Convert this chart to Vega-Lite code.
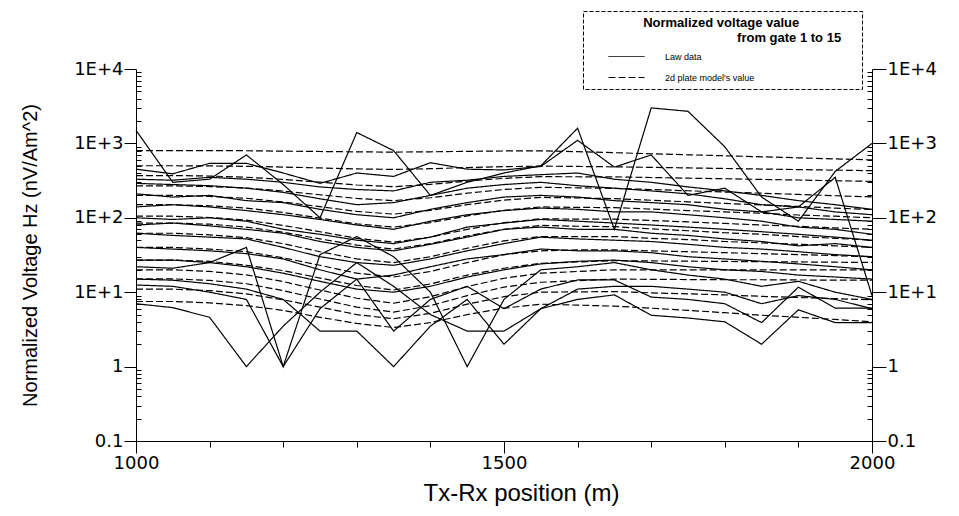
{
"$schema":"https://vega.github.io/schema/vega-lite/v6.json",
"width":736,"height":372,
"autosize":{"type":"none"},
"padding":{"left":136,"top":69,"right":87,"bottom":75},
"background":"white",
"config":{"view":{"stroke":null},"font":"Liberation Sans"},
"data":{"values":[
{"pos":1000,"val":800,"gate":1,"kind":"model"},{"pos":1050,"val":800,"gate":1,"kind":"model"},{"pos":1100,"val":799,"gate":1,"kind":"model"},{"pos":1150,"val":797,"gate":1,"kind":"model"},{"pos":1200,"val":787,"gate":1,"kind":"model"},{"pos":1250,"val":778,"gate":1,"kind":"model"},{"pos":1300,"val":770,"gate":1,"kind":"model"},{"pos":1350,"val":764,"gate":1,"kind":"model"},{"pos":1400,"val":771,"gate":1,"kind":"model"},{"pos":1450,"val":782,"gate":1,"kind":"model"},{"pos":1500,"val":791,"gate":1,"kind":"model"},{"pos":1550,"val":796,"gate":1,"kind":"model"},{"pos":1600,"val":773,"gate":1,"kind":"model"},{"pos":1650,"val":750,"gate":1,"kind":"model"},{"pos":1700,"val":726,"gate":1,"kind":"model"},{"pos":1750,"val":703,"gate":1,"kind":"model"},{"pos":1800,"val":682,"gate":1,"kind":"model"},{"pos":1850,"val":661,"gate":1,"kind":"model"},{"pos":1900,"val":640,"gate":1,"kind":"model"},{"pos":1950,"val":619,"gate":1,"kind":"model"},{"pos":2000,"val":600,"gate":1,"kind":"model"},
{"pos":1000,"val":501,"gate":2,"kind":"model"},{"pos":1050,"val":501,"gate":2,"kind":"model"},{"pos":1100,"val":498,"gate":2,"kind":"model"},{"pos":1150,"val":492,"gate":2,"kind":"model"},{"pos":1200,"val":481,"gate":2,"kind":"model"},{"pos":1250,"val":468,"gate":2,"kind":"model"},{"pos":1300,"val":454,"gate":2,"kind":"model"},{"pos":1350,"val":447,"gate":2,"kind":"model"},{"pos":1400,"val":457,"gate":2,"kind":"model"},{"pos":1450,"val":473,"gate":2,"kind":"model"},{"pos":1500,"val":487,"gate":2,"kind":"model"},{"pos":1550,"val":495,"gate":2,"kind":"model"},{"pos":1600,"val":490,"gate":2,"kind":"model"},{"pos":1650,"val":484,"gate":2,"kind":"model"},{"pos":1700,"val":476,"gate":2,"kind":"model"},{"pos":1750,"val":468,"gate":2,"kind":"model"},{"pos":1800,"val":460,"gate":2,"kind":"model"},{"pos":1850,"val":452,"gate":2,"kind":"model"},{"pos":1900,"val":445,"gate":2,"kind":"model"},{"pos":1950,"val":437,"gate":2,"kind":"model"},{"pos":2000,"val":430,"gate":2,"kind":"model"},
{"pos":1000,"val":370,"gate":3,"kind":"model"},{"pos":1050,"val":370,"gate":3,"kind":"model"},{"pos":1100,"val":364,"gate":3,"kind":"model"},{"pos":1150,"val":351,"gate":3,"kind":"model"},{"pos":1200,"val":328,"gate":3,"kind":"model"},{"pos":1250,"val":301,"gate":3,"kind":"model"},{"pos":1300,"val":276,"gate":3,"kind":"model"},{"pos":1350,"val":262,"gate":3,"kind":"model"},{"pos":1400,"val":281,"gate":3,"kind":"model"},{"pos":1450,"val":311,"gate":3,"kind":"model"},{"pos":1500,"val":339,"gate":3,"kind":"model"},{"pos":1550,"val":357,"gate":3,"kind":"model"},{"pos":1600,"val":356,"gate":3,"kind":"model"},{"pos":1650,"val":355,"gate":3,"kind":"model"},{"pos":1700,"val":348,"gate":3,"kind":"model"},{"pos":1750,"val":341,"gate":3,"kind":"model"},{"pos":1800,"val":335,"gate":3,"kind":"model"},{"pos":1850,"val":328,"gate":3,"kind":"model"},{"pos":1900,"val":322,"gate":3,"kind":"model"},{"pos":1950,"val":315,"gate":3,"kind":"model"},{"pos":2000,"val":309,"gate":3,"kind":"model"},
{"pos":1000,"val":269,"gate":4,"kind":"model"},{"pos":1050,"val":269,"gate":4,"kind":"model"},{"pos":1100,"val":263,"gate":4,"kind":"model"},{"pos":1150,"val":251,"gate":4,"kind":"model"},{"pos":1200,"val":229,"gate":4,"kind":"model"},{"pos":1250,"val":204,"gate":4,"kind":"model"},{"pos":1300,"val":182,"gate":4,"kind":"model"},{"pos":1350,"val":170,"gate":4,"kind":"model"},{"pos":1400,"val":186,"gate":4,"kind":"model"},{"pos":1450,"val":214,"gate":4,"kind":"model"},{"pos":1500,"val":240,"gate":4,"kind":"model"},{"pos":1550,"val":257,"gate":4,"kind":"model"},{"pos":1600,"val":253,"gate":4,"kind":"model"},{"pos":1650,"val":249,"gate":4,"kind":"model"},{"pos":1700,"val":240,"gate":4,"kind":"model"},{"pos":1750,"val":231,"gate":4,"kind":"model"},{"pos":1800,"val":222,"gate":4,"kind":"model"},{"pos":1850,"val":214,"gate":4,"kind":"model"},{"pos":1900,"val":206,"gate":4,"kind":"model"},{"pos":1950,"val":198,"gate":4,"kind":"model"},{"pos":2000,"val":191,"gate":4,"kind":"model"},
{"pos":1000,"val":200,"gate":5,"kind":"model"},{"pos":1050,"val":200,"gate":5,"kind":"model"},{"pos":1100,"val":194,"gate":5,"kind":"model"},{"pos":1150,"val":183,"gate":5,"kind":"model"},{"pos":1200,"val":163,"gate":5,"kind":"model"},{"pos":1250,"val":141,"gate":5,"kind":"model"},{"pos":1300,"val":122,"gate":5,"kind":"model"},{"pos":1350,"val":112,"gate":5,"kind":"model"},{"pos":1400,"val":126,"gate":5,"kind":"model"},{"pos":1450,"val":150,"gate":5,"kind":"model"},{"pos":1500,"val":173,"gate":5,"kind":"model"},{"pos":1550,"val":188,"gate":5,"kind":"model"},{"pos":1600,"val":185,"gate":5,"kind":"model"},{"pos":1650,"val":181,"gate":5,"kind":"model"},{"pos":1700,"val":172,"gate":5,"kind":"model"},{"pos":1750,"val":164,"gate":5,"kind":"model"},{"pos":1800,"val":156,"gate":5,"kind":"model"},{"pos":1850,"val":149,"gate":5,"kind":"model"},{"pos":1900,"val":142,"gate":5,"kind":"model"},{"pos":1950,"val":135,"gate":5,"kind":"model"},{"pos":2000,"val":129,"gate":5,"kind":"model"},
{"pos":1000,"val":150,"gate":6,"kind":"model"},{"pos":1050,"val":150,"gate":6,"kind":"model"},{"pos":1100,"val":145,"gate":6,"kind":"model"},{"pos":1150,"val":135,"gate":6,"kind":"model"},{"pos":1200,"val":118,"gate":6,"kind":"model"},{"pos":1250,"val":99,"gate":6,"kind":"model"},{"pos":1300,"val":83,"gate":6,"kind":"model"},{"pos":1350,"val":75,"gate":6,"kind":"model"},{"pos":1400,"val":86,"gate":6,"kind":"model"},{"pos":1450,"val":106,"gate":6,"kind":"model"},{"pos":1500,"val":126,"gate":6,"kind":"model"},{"pos":1550,"val":140,"gate":6,"kind":"model"},{"pos":1600,"val":138,"gate":6,"kind":"model"},{"pos":1650,"val":137,"gate":6,"kind":"model"},{"pos":1700,"val":131,"gate":6,"kind":"model"},{"pos":1750,"val":125,"gate":6,"kind":"model"},{"pos":1800,"val":120,"gate":6,"kind":"model"},{"pos":1850,"val":115,"gate":6,"kind":"model"},{"pos":1900,"val":109,"gate":6,"kind":"model"},{"pos":1950,"val":105,"gate":6,"kind":"model"},{"pos":2000,"val":100,"gate":6,"kind":"model"},
{"pos":1000,"val":105,"gate":7,"kind":"model"},{"pos":1050,"val":105,"gate":7,"kind":"model"},{"pos":1100,"val":101,"gate":7,"kind":"model"},{"pos":1150,"val":93,"gate":7,"kind":"model"},{"pos":1200,"val":79,"gate":7,"kind":"model"},{"pos":1250,"val":65,"gate":7,"kind":"model"},{"pos":1300,"val":53,"gate":7,"kind":"model"},{"pos":1350,"val":47,"gate":7,"kind":"model"},{"pos":1400,"val":55,"gate":7,"kind":"model"},{"pos":1450,"val":70,"gate":7,"kind":"model"},{"pos":1500,"val":86,"gate":7,"kind":"model"},{"pos":1550,"val":97,"gate":7,"kind":"model"},{"pos":1600,"val":96,"gate":7,"kind":"model"},{"pos":1650,"val":96,"gate":7,"kind":"model"},{"pos":1700,"val":92,"gate":7,"kind":"model"},{"pos":1750,"val":88,"gate":7,"kind":"model"},{"pos":1800,"val":84,"gate":7,"kind":"model"},{"pos":1850,"val":80,"gate":7,"kind":"model"},{"pos":1900,"val":77,"gate":7,"kind":"model"},{"pos":1950,"val":73,"gate":7,"kind":"model"},{"pos":2000,"val":70,"gate":7,"kind":"model"},
{"pos":1000,"val":85,"gate":8,"kind":"model"},{"pos":1050,"val":85,"gate":8,"kind":"model"},{"pos":1100,"val":82,"gate":8,"kind":"model"},{"pos":1150,"val":75,"gate":8,"kind":"model"},{"pos":1200,"val":64,"gate":8,"kind":"model"},{"pos":1250,"val":52,"gate":8,"kind":"model"},{"pos":1300,"val":43,"gate":8,"kind":"model"},{"pos":1350,"val":38,"gate":8,"kind":"model"},{"pos":1400,"val":45,"gate":8,"kind":"model"},{"pos":1450,"val":57,"gate":8,"kind":"model"},{"pos":1500,"val":70,"gate":8,"kind":"model"},{"pos":1550,"val":79,"gate":8,"kind":"model"},{"pos":1600,"val":77,"gate":8,"kind":"model"},{"pos":1650,"val":76,"gate":8,"kind":"model"},{"pos":1700,"val":71,"gate":8,"kind":"model"},{"pos":1750,"val":67,"gate":8,"kind":"model"},{"pos":1800,"val":63,"gate":8,"kind":"model"},{"pos":1850,"val":60,"gate":8,"kind":"model"},{"pos":1900,"val":56,"gate":8,"kind":"model"},{"pos":1950,"val":53,"gate":8,"kind":"model"},{"pos":2000,"val":50,"gate":8,"kind":"model"},
{"pos":1000,"val":62,"gate":9,"kind":"model"},{"pos":1050,"val":62,"gate":9,"kind":"model"},{"pos":1100,"val":59,"gate":9,"kind":"model"},{"pos":1150,"val":54,"gate":9,"kind":"model"},{"pos":1200,"val":45,"gate":9,"kind":"model"},{"pos":1250,"val":35,"gate":9,"kind":"model"},{"pos":1300,"val":28,"gate":9,"kind":"model"},{"pos":1350,"val":25,"gate":9,"kind":"model"},{"pos":1400,"val":30,"gate":9,"kind":"model"},{"pos":1450,"val":39,"gate":9,"kind":"model"},{"pos":1500,"val":49,"gate":9,"kind":"model"},{"pos":1550,"val":56,"gate":9,"kind":"model"},{"pos":1600,"val":56,"gate":9,"kind":"model"},{"pos":1650,"val":56,"gate":9,"kind":"model"},{"pos":1700,"val":53,"gate":9,"kind":"model"},{"pos":1750,"val":51,"gate":9,"kind":"model"},{"pos":1800,"val":48,"gate":9,"kind":"model"},{"pos":1850,"val":46,"gate":9,"kind":"model"},{"pos":1900,"val":44,"gate":9,"kind":"model"},{"pos":1950,"val":42,"gate":9,"kind":"model"},{"pos":2000,"val":40,"gate":9,"kind":"model"},
{"pos":1000,"val":40,"gate":10,"kind":"model"},{"pos":1050,"val":40,"gate":10,"kind":"model"},{"pos":1100,"val":38,"gate":10,"kind":"model"},{"pos":1150,"val":35,"gate":10,"kind":"model"},{"pos":1200,"val":29,"gate":10,"kind":"model"},{"pos":1250,"val":23,"gate":10,"kind":"model"},{"pos":1300,"val":18,"gate":10,"kind":"model"},{"pos":1350,"val":16,"gate":10,"kind":"model"},{"pos":1400,"val":19,"gate":10,"kind":"model"},{"pos":1450,"val":25,"gate":10,"kind":"model"},{"pos":1500,"val":32,"gate":10,"kind":"model"},{"pos":1550,"val":36,"gate":10,"kind":"model"},{"pos":1600,"val":37,"gate":10,"kind":"model"},{"pos":1650,"val":37,"gate":10,"kind":"model"},{"pos":1700,"val":36,"gate":10,"kind":"model"},{"pos":1750,"val":35,"gate":10,"kind":"model"},{"pos":1800,"val":34,"gate":10,"kind":"model"},{"pos":1850,"val":33,"gate":10,"kind":"model"},{"pos":1900,"val":32,"gate":10,"kind":"model"},{"pos":1950,"val":31,"gate":10,"kind":"model"},{"pos":2000,"val":30,"gate":10,"kind":"model"},
{"pos":1000,"val":27,"gate":11,"kind":"model"},{"pos":1050,"val":27,"gate":11,"kind":"model"},{"pos":1100,"val":26,"gate":11,"kind":"model"},{"pos":1150,"val":23,"gate":11,"kind":"model"},{"pos":1200,"val":19.5,"gate":11,"kind":"model"},{"pos":1250,"val":15.5,"gate":11,"kind":"model"},{"pos":1300,"val":12.3,"gate":11,"kind":"model"},{"pos":1350,"val":10.7,"gate":11,"kind":"model"},{"pos":1400,"val":12.9,"gate":11,"kind":"model"},{"pos":1450,"val":17,"gate":11,"kind":"model"},{"pos":1500,"val":21,"gate":11,"kind":"model"},{"pos":1550,"val":24.5,"gate":11,"kind":"model"},{"pos":1600,"val":25.5,"gate":11,"kind":"model"},{"pos":1650,"val":26.5,"gate":11,"kind":"model"},{"pos":1700,"val":26.3,"gate":11,"kind":"model"},{"pos":1750,"val":26.1,"gate":11,"kind":"model"},{"pos":1800,"val":25.9,"gate":11,"kind":"model"},{"pos":1850,"val":25.7,"gate":11,"kind":"model"},{"pos":1900,"val":25.5,"gate":11,"kind":"model"},{"pos":1950,"val":25.3,"gate":11,"kind":"model"},{"pos":2000,"val":25.1,"gate":11,"kind":"model"},
{"pos":1000,"val":20,"gate":12,"kind":"model"},{"pos":1050,"val":20,"gate":12,"kind":"model"},{"pos":1100,"val":19,"gate":12,"kind":"model"},{"pos":1150,"val":17.1,"gate":12,"kind":"model"},{"pos":1200,"val":13.9,"gate":12,"kind":"model"},{"pos":1250,"val":10.7,"gate":12,"kind":"model"},{"pos":1300,"val":8.3,"gate":12,"kind":"model"},{"pos":1350,"val":7.1,"gate":12,"kind":"model"},{"pos":1400,"val":8.7,"gate":12,"kind":"model"},{"pos":1450,"val":11.9,"gate":12,"kind":"model"},{"pos":1500,"val":15.4,"gate":12,"kind":"model"},{"pos":1550,"val":18,"gate":12,"kind":"model"},{"pos":1600,"val":19,"gate":12,"kind":"model"},{"pos":1650,"val":20,"gate":12,"kind":"model"},{"pos":1700,"val":20,"gate":12,"kind":"model"},{"pos":1750,"val":20,"gate":12,"kind":"model"},{"pos":1800,"val":20,"gate":12,"kind":"model"},{"pos":1850,"val":20,"gate":12,"kind":"model"},{"pos":1900,"val":20,"gate":12,"kind":"model"},{"pos":1950,"val":20,"gate":12,"kind":"model"},{"pos":2000,"val":20,"gate":12,"kind":"model"},
{"pos":1000,"val":15.1,"gate":13,"kind":"model"},{"pos":1050,"val":15.1,"gate":13,"kind":"model"},{"pos":1100,"val":14.4,"gate":13,"kind":"model"},{"pos":1150,"val":13,"gate":13,"kind":"model"},{"pos":1200,"val":10.5,"gate":13,"kind":"model"},{"pos":1250,"val":8.1,"gate":13,"kind":"model"},{"pos":1300,"val":6.3,"gate":13,"kind":"model"},{"pos":1350,"val":5.4,"gate":13,"kind":"model"},{"pos":1400,"val":6.6,"gate":13,"kind":"model"},{"pos":1450,"val":9,"gate":13,"kind":"model"},{"pos":1500,"val":11.7,"gate":13,"kind":"model"},{"pos":1550,"val":13.6,"gate":13,"kind":"model"},{"pos":1600,"val":14.3,"gate":13,"kind":"model"},{"pos":1650,"val":15,"gate":13,"kind":"model"},{"pos":1700,"val":14.9,"gate":13,"kind":"model"},{"pos":1750,"val":14.8,"gate":13,"kind":"model"},{"pos":1800,"val":14.7,"gate":13,"kind":"model"},{"pos":1850,"val":14.7,"gate":13,"kind":"model"},{"pos":1900,"val":14.6,"gate":13,"kind":"model"},{"pos":1950,"val":14.5,"gate":13,"kind":"model"},{"pos":2000,"val":14.5,"gate":13,"kind":"model"},
{"pos":1000,"val":11,"gate":14,"kind":"model"},{"pos":1050,"val":11,"gate":14,"kind":"model"},{"pos":1100,"val":10.5,"gate":14,"kind":"model"},{"pos":1150,"val":9.5,"gate":14,"kind":"model"},{"pos":1200,"val":7.9,"gate":14,"kind":"model"},{"pos":1250,"val":6.3,"gate":14,"kind":"model"},{"pos":1300,"val":5,"gate":14,"kind":"model"},{"pos":1350,"val":4.4,"gate":14,"kind":"model"},{"pos":1400,"val":5.2,"gate":14,"kind":"model"},{"pos":1450,"val":6.9,"gate":14,"kind":"model"},{"pos":1500,"val":8.7,"gate":14,"kind":"model"},{"pos":1550,"val":10,"gate":14,"kind":"model"},{"pos":1600,"val":10.1,"gate":14,"kind":"model"},{"pos":1650,"val":10.2,"gate":14,"kind":"model"},{"pos":1700,"val":9.8,"gate":14,"kind":"model"},{"pos":1750,"val":9.5,"gate":14,"kind":"model"},{"pos":1800,"val":9.2,"gate":14,"kind":"model"},{"pos":1850,"val":8.8,"gate":14,"kind":"model"},{"pos":1900,"val":8.5,"gate":14,"kind":"model"},{"pos":1950,"val":8.2,"gate":14,"kind":"model"},{"pos":2000,"val":7.9,"gate":14,"kind":"model"},
{"pos":1000,"val":7.5,"gate":15,"kind":"model"},{"pos":1050,"val":7.5,"gate":15,"kind":"model"},{"pos":1100,"val":7.2,"gate":15,"kind":"model"},{"pos":1150,"val":6.6,"gate":15,"kind":"model"},{"pos":1200,"val":5.7,"gate":15,"kind":"model"},{"pos":1250,"val":4.6,"gate":15,"kind":"model"},{"pos":1300,"val":3.8,"gate":15,"kind":"model"},{"pos":1350,"val":3.35,"gate":15,"kind":"model"},{"pos":1400,"val":3.9,"gate":15,"kind":"model"},{"pos":1450,"val":5,"gate":15,"kind":"model"},{"pos":1500,"val":6.1,"gate":15,"kind":"model"},{"pos":1550,"val":6.9,"gate":15,"kind":"model"},{"pos":1600,"val":6.7,"gate":15,"kind":"model"},{"pos":1650,"val":6.5,"gate":15,"kind":"model"},{"pos":1700,"val":6.1,"gate":15,"kind":"model"},{"pos":1750,"val":5.7,"gate":15,"kind":"model"},{"pos":1800,"val":5.3,"gate":15,"kind":"model"},{"pos":1850,"val":4.9,"gate":15,"kind":"model"},{"pos":1900,"val":4.6,"gate":15,"kind":"model"},{"pos":1950,"val":4.3,"gate":15,"kind":"model"},{"pos":2000,"val":4,"gate":15,"kind":"model"},
{"pos":1000,"val":1500,"gate":1,"kind":"raw"},{"pos":1050,"val":300,"gate":1,"kind":"raw"},{"pos":1100,"val":330,"gate":1,"kind":"raw"},{"pos":1150,"val":700,"gate":1,"kind":"raw"},{"pos":1200,"val":280,"gate":1,"kind":"raw"},{"pos":1250,"val":100,"gate":1,"kind":"raw"},{"pos":1300,"val":1400,"gate":1,"kind":"raw"},{"pos":1350,"val":800,"gate":1,"kind":"raw"},{"pos":1400,"val":200,"gate":1,"kind":"raw"},{"pos":1450,"val":300,"gate":1,"kind":"raw"},{"pos":1500,"val":400,"gate":1,"kind":"raw"},{"pos":1550,"val":500,"gate":1,"kind":"raw"},{"pos":1600,"val":1600,"gate":1,"kind":"raw"},{"pos":1650,"val":70,"gate":1,"kind":"raw"},{"pos":1700,"val":3000,"gate":1,"kind":"raw"},{"pos":1750,"val":2700,"gate":1,"kind":"raw"},{"pos":1800,"val":900,"gate":1,"kind":"raw"},{"pos":1850,"val":190,"gate":1,"kind":"raw"},{"pos":1900,"val":90,"gate":1,"kind":"raw"},{"pos":1950,"val":420,"gate":1,"kind":"raw"},{"pos":2000,"val":1000,"gate":1,"kind":"raw"},
{"pos":1000,"val":450,"gate":2,"kind":"raw"},{"pos":1050,"val":390,"gate":2,"kind":"raw"},{"pos":1100,"val":540,"gate":2,"kind":"raw"},{"pos":1150,"val":540,"gate":2,"kind":"raw"},{"pos":1200,"val":400,"gate":2,"kind":"raw"},{"pos":1250,"val":290,"gate":2,"kind":"raw"},{"pos":1300,"val":400,"gate":2,"kind":"raw"},{"pos":1350,"val":360,"gate":2,"kind":"raw"},{"pos":1400,"val":550,"gate":2,"kind":"raw"},{"pos":1450,"val":450,"gate":2,"kind":"raw"},{"pos":1500,"val":440,"gate":2,"kind":"raw"},{"pos":1550,"val":490,"gate":2,"kind":"raw"},{"pos":1600,"val":1100,"gate":2,"kind":"raw"},{"pos":1650,"val":480,"gate":2,"kind":"raw"},{"pos":1700,"val":700,"gate":2,"kind":"raw"},{"pos":1750,"val":200,"gate":2,"kind":"raw"},{"pos":1800,"val":250,"gate":2,"kind":"raw"},{"pos":1850,"val":120,"gate":2,"kind":"raw"},{"pos":1900,"val":140,"gate":2,"kind":"raw"},{"pos":1950,"val":350,"gate":2,"kind":"raw"},{"pos":2000,"val":9,"gate":2,"kind":"raw"},
{"pos":1000,"val":330,"gate":3,"kind":"raw"},{"pos":1050,"val":320,"gate":3,"kind":"raw"},{"pos":1100,"val":350,"gate":3,"kind":"raw"},{"pos":1150,"val":330,"gate":3,"kind":"raw"},{"pos":1200,"val":300,"gate":3,"kind":"raw"},{"pos":1250,"val":260,"gate":3,"kind":"raw"},{"pos":1300,"val":240,"gate":3,"kind":"raw"},{"pos":1350,"val":230,"gate":3,"kind":"raw"},{"pos":1400,"val":300,"gate":3,"kind":"raw"},{"pos":1450,"val":320,"gate":3,"kind":"raw"},{"pos":1500,"val":360,"gate":3,"kind":"raw"},{"pos":1550,"val":380,"gate":3,"kind":"raw"},{"pos":1600,"val":400,"gate":3,"kind":"raw"},{"pos":1650,"val":330,"gate":3,"kind":"raw"},{"pos":1700,"val":300,"gate":3,"kind":"raw"},{"pos":1750,"val":260,"gate":3,"kind":"raw"},{"pos":1800,"val":230,"gate":3,"kind":"raw"},{"pos":1850,"val":200,"gate":3,"kind":"raw"},{"pos":1900,"val":170,"gate":3,"kind":"raw"},{"pos":1950,"val":150,"gate":3,"kind":"raw"},{"pos":2000,"val":130,"gate":3,"kind":"raw"},
{"pos":1000,"val":290,"gate":4,"kind":"raw"},{"pos":1050,"val":280,"gate":4,"kind":"raw"},{"pos":1100,"val":270,"gate":4,"kind":"raw"},{"pos":1150,"val":250,"gate":4,"kind":"raw"},{"pos":1200,"val":220,"gate":4,"kind":"raw"},{"pos":1250,"val":180,"gate":4,"kind":"raw"},{"pos":1300,"val":150,"gate":4,"kind":"raw"},{"pos":1350,"val":160,"gate":4,"kind":"raw"},{"pos":1400,"val":200,"gate":4,"kind":"raw"},{"pos":1450,"val":250,"gate":4,"kind":"raw"},{"pos":1500,"val":280,"gate":4,"kind":"raw"},{"pos":1550,"val":300,"gate":4,"kind":"raw"},{"pos":1600,"val":270,"gate":4,"kind":"raw"},{"pos":1650,"val":250,"gate":4,"kind":"raw"},{"pos":1700,"val":230,"gate":4,"kind":"raw"},{"pos":1750,"val":210,"gate":4,"kind":"raw"},{"pos":1800,"val":180,"gate":4,"kind":"raw"},{"pos":1850,"val":150,"gate":4,"kind":"raw"},{"pos":1900,"val":140,"gate":4,"kind":"raw"},{"pos":1950,"val":120,"gate":4,"kind":"raw"},{"pos":2000,"val":110,"gate":4,"kind":"raw"},
{"pos":1000,"val":210,"gate":5,"kind":"raw"},{"pos":1050,"val":190,"gate":5,"kind":"raw"},{"pos":1100,"val":200,"gate":5,"kind":"raw"},{"pos":1150,"val":170,"gate":5,"kind":"raw"},{"pos":1200,"val":160,"gate":5,"kind":"raw"},{"pos":1250,"val":130,"gate":5,"kind":"raw"},{"pos":1300,"val":110,"gate":5,"kind":"raw"},{"pos":1350,"val":100,"gate":5,"kind":"raw"},{"pos":1400,"val":130,"gate":5,"kind":"raw"},{"pos":1450,"val":160,"gate":5,"kind":"raw"},{"pos":1500,"val":190,"gate":5,"kind":"raw"},{"pos":1550,"val":200,"gate":5,"kind":"raw"},{"pos":1600,"val":190,"gate":5,"kind":"raw"},{"pos":1650,"val":170,"gate":5,"kind":"raw"},{"pos":1700,"val":160,"gate":5,"kind":"raw"},{"pos":1750,"val":150,"gate":5,"kind":"raw"},{"pos":1800,"val":130,"gate":5,"kind":"raw"},{"pos":1850,"val":120,"gate":5,"kind":"raw"},{"pos":1900,"val":100,"gate":5,"kind":"raw"},{"pos":1950,"val":95,"gate":5,"kind":"raw"},{"pos":2000,"val":90,"gate":5,"kind":"raw"},
{"pos":1000,"val":140,"gate":6,"kind":"raw"},{"pos":1050,"val":150,"gate":6,"kind":"raw"},{"pos":1100,"val":140,"gate":6,"kind":"raw"},{"pos":1150,"val":125,"gate":6,"kind":"raw"},{"pos":1200,"val":110,"gate":6,"kind":"raw"},{"pos":1250,"val":95,"gate":6,"kind":"raw"},{"pos":1300,"val":80,"gate":6,"kind":"raw"},{"pos":1350,"val":70,"gate":6,"kind":"raw"},{"pos":1400,"val":90,"gate":6,"kind":"raw"},{"pos":1450,"val":110,"gate":6,"kind":"raw"},{"pos":1500,"val":125,"gate":6,"kind":"raw"},{"pos":1550,"val":135,"gate":6,"kind":"raw"},{"pos":1600,"val":130,"gate":6,"kind":"raw"},{"pos":1650,"val":120,"gate":6,"kind":"raw"},{"pos":1700,"val":120,"gate":6,"kind":"raw"},{"pos":1750,"val":110,"gate":6,"kind":"raw"},{"pos":1800,"val":100,"gate":6,"kind":"raw"},{"pos":1850,"val":90,"gate":6,"kind":"raw"},{"pos":1900,"val":75,"gate":6,"kind":"raw"},{"pos":1950,"val":70,"gate":6,"kind":"raw"},{"pos":2000,"val":60,"gate":6,"kind":"raw"},
{"pos":1000,"val":100,"gate":7,"kind":"raw"},{"pos":1050,"val":95,"gate":7,"kind":"raw"},{"pos":1100,"val":100,"gate":7,"kind":"raw"},{"pos":1150,"val":90,"gate":7,"kind":"raw"},{"pos":1200,"val":70,"gate":7,"kind":"raw"},{"pos":1250,"val":60,"gate":7,"kind":"raw"},{"pos":1300,"val":50,"gate":7,"kind":"raw"},{"pos":1350,"val":45,"gate":7,"kind":"raw"},{"pos":1400,"val":55,"gate":7,"kind":"raw"},{"pos":1450,"val":75,"gate":7,"kind":"raw"},{"pos":1500,"val":85,"gate":7,"kind":"raw"},{"pos":1550,"val":95,"gate":7,"kind":"raw"},{"pos":1600,"val":90,"gate":7,"kind":"raw"},{"pos":1650,"val":85,"gate":7,"kind":"raw"},{"pos":1700,"val":80,"gate":7,"kind":"raw"},{"pos":1750,"val":75,"gate":7,"kind":"raw"},{"pos":1800,"val":70,"gate":7,"kind":"raw"},{"pos":1850,"val":65,"gate":7,"kind":"raw"},{"pos":1900,"val":60,"gate":7,"kind":"raw"},{"pos":1950,"val":55,"gate":7,"kind":"raw"},{"pos":2000,"val":50,"gate":7,"kind":"raw"},
{"pos":1000,"val":80,"gate":8,"kind":"raw"},{"pos":1050,"val":85,"gate":8,"kind":"raw"},{"pos":1100,"val":78,"gate":8,"kind":"raw"},{"pos":1150,"val":70,"gate":8,"kind":"raw"},{"pos":1200,"val":62,"gate":8,"kind":"raw"},{"pos":1250,"val":48,"gate":8,"kind":"raw"},{"pos":1300,"val":40,"gate":8,"kind":"raw"},{"pos":1350,"val":36,"gate":8,"kind":"raw"},{"pos":1400,"val":44,"gate":8,"kind":"raw"},{"pos":1450,"val":55,"gate":8,"kind":"raw"},{"pos":1500,"val":70,"gate":8,"kind":"raw"},{"pos":1550,"val":75,"gate":8,"kind":"raw"},{"pos":1600,"val":70,"gate":8,"kind":"raw"},{"pos":1650,"val":70,"gate":8,"kind":"raw"},{"pos":1700,"val":62,"gate":8,"kind":"raw"},{"pos":1750,"val":58,"gate":8,"kind":"raw"},{"pos":1800,"val":52,"gate":8,"kind":"raw"},{"pos":1850,"val":48,"gate":8,"kind":"raw"},{"pos":1900,"val":42,"gate":8,"kind":"raw"},{"pos":1950,"val":45,"gate":8,"kind":"raw"},{"pos":2000,"val":40,"gate":8,"kind":"raw"},
{"pos":1000,"val":62,"gate":9,"kind":"raw"},{"pos":1050,"val":58,"gate":9,"kind":"raw"},{"pos":1100,"val":55,"gate":9,"kind":"raw"},{"pos":1150,"val":52,"gate":9,"kind":"raw"},{"pos":1200,"val":40,"gate":9,"kind":"raw"},{"pos":1250,"val":30,"gate":9,"kind":"raw"},{"pos":1300,"val":25,"gate":9,"kind":"raw"},{"pos":1350,"val":23,"gate":9,"kind":"raw"},{"pos":1400,"val":28,"gate":9,"kind":"raw"},{"pos":1450,"val":36,"gate":9,"kind":"raw"},{"pos":1500,"val":45,"gate":9,"kind":"raw"},{"pos":1550,"val":55,"gate":9,"kind":"raw"},{"pos":1600,"val":52,"gate":9,"kind":"raw"},{"pos":1650,"val":50,"gate":9,"kind":"raw"},{"pos":1700,"val":48,"gate":9,"kind":"raw"},{"pos":1750,"val":44,"gate":9,"kind":"raw"},{"pos":1800,"val":40,"gate":9,"kind":"raw"},{"pos":1850,"val":38,"gate":9,"kind":"raw"},{"pos":1900,"val":35,"gate":9,"kind":"raw"},{"pos":1950,"val":32,"gate":9,"kind":"raw"},{"pos":2000,"val":30,"gate":9,"kind":"raw"},
{"pos":1000,"val":40,"gate":10,"kind":"raw"},{"pos":1050,"val":38,"gate":10,"kind":"raw"},{"pos":1100,"val":36,"gate":10,"kind":"raw"},{"pos":1150,"val":33,"gate":10,"kind":"raw"},{"pos":1200,"val":28,"gate":10,"kind":"raw"},{"pos":1250,"val":20,"gate":10,"kind":"raw"},{"pos":1300,"val":15,"gate":10,"kind":"raw"},{"pos":1350,"val":17,"gate":10,"kind":"raw"},{"pos":1400,"val":22,"gate":10,"kind":"raw"},{"pos":1450,"val":28,"gate":10,"kind":"raw"},{"pos":1500,"val":32,"gate":10,"kind":"raw"},{"pos":1550,"val":38,"gate":10,"kind":"raw"},{"pos":1600,"val":36,"gate":10,"kind":"raw"},{"pos":1650,"val":36,"gate":10,"kind":"raw"},{"pos":1700,"val":34,"gate":10,"kind":"raw"},{"pos":1750,"val":30,"gate":10,"kind":"raw"},{"pos":1800,"val":28,"gate":10,"kind":"raw"},{"pos":1850,"val":26,"gate":10,"kind":"raw"},{"pos":1900,"val":24,"gate":10,"kind":"raw"},{"pos":1950,"val":22,"gate":10,"kind":"raw"},{"pos":2000,"val":20,"gate":10,"kind":"raw"},
{"pos":1000,"val":27,"gate":11,"kind":"raw"},{"pos":1050,"val":27,"gate":11,"kind":"raw"},{"pos":1100,"val":25,"gate":11,"kind":"raw"},{"pos":1150,"val":22,"gate":11,"kind":"raw"},{"pos":1200,"val":18,"gate":11,"kind":"raw"},{"pos":1250,"val":14,"gate":11,"kind":"raw"},{"pos":1300,"val":11,"gate":11,"kind":"raw"},{"pos":1350,"val":10,"gate":11,"kind":"raw"},{"pos":1400,"val":12,"gate":11,"kind":"raw"},{"pos":1450,"val":16,"gate":11,"kind":"raw"},{"pos":1500,"val":20,"gate":11,"kind":"raw"},{"pos":1550,"val":24,"gate":11,"kind":"raw"},{"pos":1600,"val":26,"gate":11,"kind":"raw"},{"pos":1650,"val":27,"gate":11,"kind":"raw"},{"pos":1700,"val":25,"gate":11,"kind":"raw"},{"pos":1750,"val":22,"gate":11,"kind":"raw"},{"pos":1800,"val":20,"gate":11,"kind":"raw"},{"pos":1850,"val":19,"gate":11,"kind":"raw"},{"pos":1900,"val":17,"gate":11,"kind":"raw"},{"pos":1950,"val":16,"gate":11,"kind":"raw"},{"pos":2000,"val":15,"gate":11,"kind":"raw"},
{"pos":1000,"val":22,"gate":12,"kind":"raw"},{"pos":1050,"val":21,"gate":12,"kind":"raw"},{"pos":1100,"val":25,"gate":12,"kind":"raw"},{"pos":1150,"val":40,"gate":12,"kind":"raw"},{"pos":1200,"val":1,"gate":12,"kind":"raw"},{"pos":1250,"val":32,"gate":12,"kind":"raw"},{"pos":1300,"val":56,"gate":12,"kind":"raw"},{"pos":1350,"val":30,"gate":12,"kind":"raw"},{"pos":1400,"val":10,"gate":12,"kind":"raw"},{"pos":1450,"val":1,"gate":12,"kind":"raw"},{"pos":1500,"val":8,"gate":12,"kind":"raw"},{"pos":1550,"val":20,"gate":12,"kind":"raw"},{"pos":1600,"val":22,"gate":12,"kind":"raw"},{"pos":1650,"val":25,"gate":12,"kind":"raw"},{"pos":1700,"val":20,"gate":12,"kind":"raw"},{"pos":1750,"val":17,"gate":12,"kind":"raw"},{"pos":1800,"val":15,"gate":12,"kind":"raw"},{"pos":1850,"val":12,"gate":12,"kind":"raw"},{"pos":1900,"val":14,"gate":12,"kind":"raw"},{"pos":1950,"val":10,"gate":12,"kind":"raw"},{"pos":2000,"val":8,"gate":12,"kind":"raw"},
{"pos":1000,"val":15,"gate":13,"kind":"raw"},{"pos":1050,"val":14.5,"gate":13,"kind":"raw"},{"pos":1100,"val":13,"gate":13,"kind":"raw"},{"pos":1150,"val":11,"gate":13,"kind":"raw"},{"pos":1200,"val":8,"gate":13,"kind":"raw"},{"pos":1250,"val":3,"gate":13,"kind":"raw"},{"pos":1300,"val":3,"gate":13,"kind":"raw"},{"pos":1350,"val":1,"gate":13,"kind":"raw"},{"pos":1400,"val":3.5,"gate":13,"kind":"raw"},{"pos":1450,"val":8,"gate":13,"kind":"raw"},{"pos":1500,"val":2,"gate":13,"kind":"raw"},{"pos":1550,"val":6,"gate":13,"kind":"raw"},{"pos":1600,"val":11,"gate":13,"kind":"raw"},{"pos":1650,"val":12,"gate":13,"kind":"raw"},{"pos":1700,"val":12,"gate":13,"kind":"raw"},{"pos":1750,"val":11,"gate":13,"kind":"raw"},{"pos":1800,"val":10,"gate":13,"kind":"raw"},{"pos":1850,"val":7,"gate":13,"kind":"raw"},{"pos":1900,"val":9,"gate":13,"kind":"raw"},{"pos":1950,"val":8,"gate":13,"kind":"raw"},{"pos":2000,"val":6,"gate":13,"kind":"raw"},
{"pos":1000,"val":12.5,"gate":14,"kind":"raw"},{"pos":1050,"val":12,"gate":14,"kind":"raw"},{"pos":1100,"val":10,"gate":14,"kind":"raw"},{"pos":1150,"val":8,"gate":14,"kind":"raw"},{"pos":1200,"val":1,"gate":14,"kind":"raw"},{"pos":1250,"val":6,"gate":14,"kind":"raw"},{"pos":1300,"val":15,"gate":14,"kind":"raw"},{"pos":1350,"val":3,"gate":14,"kind":"raw"},{"pos":1400,"val":8,"gate":14,"kind":"raw"},{"pos":1450,"val":12,"gate":14,"kind":"raw"},{"pos":1500,"val":6,"gate":14,"kind":"raw"},{"pos":1550,"val":11,"gate":14,"kind":"raw"},{"pos":1600,"val":14.6,"gate":14,"kind":"raw"},{"pos":1650,"val":14.6,"gate":14,"kind":"raw"},{"pos":1700,"val":8.6,"gate":14,"kind":"raw"},{"pos":1750,"val":8,"gate":14,"kind":"raw"},{"pos":1800,"val":7,"gate":14,"kind":"raw"},{"pos":1850,"val":3.9,"gate":14,"kind":"raw"},{"pos":1900,"val":11.7,"gate":14,"kind":"raw"},{"pos":1950,"val":6.1,"gate":14,"kind":"raw"},{"pos":2000,"val":6.1,"gate":14,"kind":"raw"},
{"pos":1000,"val":7,"gate":15,"kind":"raw"},{"pos":1050,"val":6.2,"gate":15,"kind":"raw"},{"pos":1100,"val":4.6,"gate":15,"kind":"raw"},{"pos":1150,"val":1,"gate":15,"kind":"raw"},{"pos":1200,"val":3.5,"gate":15,"kind":"raw"},{"pos":1250,"val":10,"gate":15,"kind":"raw"},{"pos":1300,"val":25,"gate":15,"kind":"raw"},{"pos":1350,"val":12,"gate":15,"kind":"raw"},{"pos":1400,"val":5,"gate":15,"kind":"raw"},{"pos":1450,"val":3,"gate":15,"kind":"raw"},{"pos":1500,"val":3,"gate":15,"kind":"raw"},{"pos":1550,"val":6,"gate":15,"kind":"raw"},{"pos":1600,"val":8,"gate":15,"kind":"raw"},{"pos":1650,"val":9.2,"gate":15,"kind":"raw"},{"pos":1700,"val":4.9,"gate":15,"kind":"raw"},{"pos":1750,"val":4.5,"gate":15,"kind":"raw"},{"pos":1800,"val":4,"gate":15,"kind":"raw"},{"pos":1850,"val":2,"gate":15,"kind":"raw"},{"pos":1900,"val":5.8,"gate":15,"kind":"raw"},{"pos":1950,"val":3.9,"gate":15,"kind":"raw"},{"pos":2000,"val":3.9,"gate":15,"kind":"raw"}
]},
"layer":[
{"transform":[{"filter":"datum.kind=='raw'"}],
 "mark":{"type":"line","color":"black","strokeWidth":1.2},
 "encoding":{
  "x":{"field":"pos","type":"quantitative","scale":{"domain":[1000,2000],"nice":false,"zero":false},
   "axis":{"values":[1000,1050,1100,1150,1200,1250,1300,1350,1400,1450,1500,1550,1600,1650,1700,1750,1800,1850,1900,1950,2000],
    "format":"d","labelExpr":"datum.value==1000||datum.value==1500||datum.value==2000?datum.label:''",
    "labelFlush":false,"labelOverlap":false,"grid":false,
    "tickSize":{"condition":{"test":"datum.value==1000||datum.value==1500||datum.value==2000","value":12},"value":6},
    "domainColor":"black","tickColor":"black","labelColor":"black","labelFont":"DejaVu Sans","labelFontSize":18,"labelPadding":1,
    "title":"Tx-Rx position (m)","titleFont":"Liberation Sans","titleFontSize":24,"titleFontWeight":"normal","titleColor":"black",
    "titleX":385,"titleY":52,"titleAlign":"center","titleBaseline":"middle"}},
  "y":{"field":"val","type":"quantitative","scale":{"type":"log","domain":[0.1,10000],"nice":false},
   "axis":{"orient":"left","values":[0.1,0.2,0.3,0.4,0.5,0.6,0.7,0.8,0.9,1,2,3,4,5,6,7,8,9,10,20,30,40,50,60,70,80,90,100,200,300,400,500,600,700,800,900,1000,2000,3000,4000,5000,6000,7000,8000,9000,10000],
    "labelExpr":"datum.value==10000?'1E+4':datum.value==1000?'1E+3':datum.value==100?'1E+2':datum.value==10?'1E+1':datum.value==1?'1':datum.value==0.1?'0.1':''",
    "labelFlush":false,"labelOverlap":false,"grid":false,
    "tickSize":{"condition":{"test":"indexof([0.1,1,10,100,1000,10000],datum.value)>=0","value":12},"value":-5},
    "domainColor":"black","tickColor":"black","labelColor":"black","labelFont":"DejaVu Sans","labelFontSize":18,"labelPadding":1,
    "title":"Normalized Voltage Hz (nV/Am^2)","titleFont":"Liberation Sans","titleFontSize":20,"titleFontWeight":"normal","titleColor":"black",
    "titleX":-106,"titleY":186,"titleAlign":"center","titleBaseline":"middle"}},
  "detail":{"field":"gate"},
  "strokeDash":{"field":"kind","type":"nominal","scale":{"domain":["raw","model"],"range":[[1,0],[7,3]]},
   "legend":{"orient":"none","legendX":447,"legendY":-58,
    "title":["\u200b\u00a0\u00a0\u00a0\u00a0\u00a0\u00a0\u00a0\u00a0\u00a0\u00a0\u00a0\u00a0\u00a0\u00a0\u00a0Normalized voltage value","\u200b\u00a0\u00a0\u00a0\u00a0\u00a0\u00a0\u00a0\u00a0\u00a0\u00a0\u00a0\u00a0\u00a0\u00a0\u00a0\u00a0\u00a0\u00a0\u00a0\u00a0\u00a0\u00a0\u00a0\u00a0\u00a0\u00a0\u00a0\u00a0\u00a0\u00a0\u00a0\u00a0\u00a0\u00a0\u00a0\u00a0\u00a0\u00a0\u00a0\u00a0\u00a0from gate 1 to 15\u00a0\u00a0\u00a0\u00a0\u200b"],
    "titleFont":"Liberation Sans","titleFontSize":13,"titleFontWeight":"bold","titleColor":"black","titleLineHeight":15,"titlePadding":6,"titleLimit":1000,"titleAlign":"left","titleAnchor":"start",
    "labelFont":"Liberation Sans","labelFontSize":9,"labelColor":"black","labelOffset":33,"labelLimit":500,
    "labelExpr":"datum.value=='raw'?'Law data':\"2d plate model's value\"",
    "symbolType":"M-3.6,0H3.6","symbolSize":100,"symbolStrokeWidth":1,"symbolStrokeColor":"black","symbolOffset":32,
    "rowPadding":10,"padding":6,"strokeColor":"black",
    "encode":{"legend":{"update":{"strokeDash":{"value":[4,2]}}}}}}
 }},
{"transform":[{"filter":"datum.kind=='model'"}],
 "mark":{"type":"line","color":"black","strokeWidth":1.2},
 "encoding":{
  "x":{"field":"pos","type":"quantitative"},
  "y":{"field":"val","type":"quantitative",
   "axis":{"orient":"right","values":[0.1,0.2,0.3,0.4,0.5,0.6,0.7,0.8,0.9,1,2,3,4,5,6,7,8,9,10,20,30,40,50,60,70,80,90,100,200,300,400,500,600,700,800,900,1000,2000,3000,4000,5000,6000,7000,8000,9000,10000],
    "labelExpr":"datum.value==10000?'1E+4':datum.value==1000?'1E+3':datum.value==100?'1E+2':datum.value==10?'1E+1':datum.value==1?'1':datum.value==0.1?'0.1':''",
    "labelFlush":false,"labelOverlap":false,"grid":false,
    "tickSize":{"condition":{"test":"indexof([0.1,1,10,100,1000,10000],datum.value)>=0","value":14},"value":-5},
    "domainColor":"black","tickColor":"black","labelColor":"black","labelFont":"DejaVu Sans","labelFontSize":18,"labelPadding":1,
    "title":null}},
  "detail":{"field":"gate"},
  "strokeDash":{"field":"kind","type":"nominal"}
 }}
],
"resolve":{"scale":{"y":"shared"},"axis":{"y":"independent"}}
}
